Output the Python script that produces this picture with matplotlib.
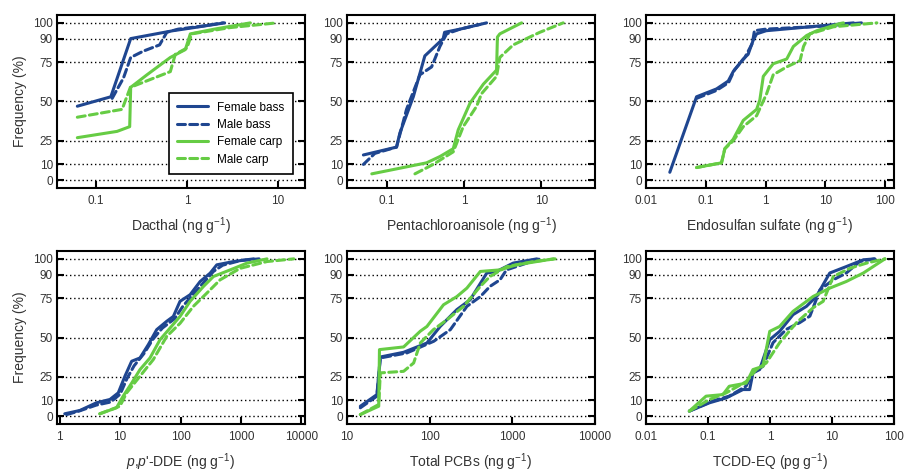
import matplotlib.pyplot as plt
from matplotlib.ticker import FixedLocator, FuncFormatter, NullLocator

plt.rcParams['font.family'] = ['Liberation Sans', 'DejaVu Sans']
plt.rcParams['mathtext.fontset'] = 'custom'
plt.rcParams['mathtext.rm'] = 'Liberation Sans'
plt.rcParams['mathtext.it'] = 'Liberation Sans:italic'

BLUE = '#1f4690'
GREEN = '#66cc44'

# cumulative frequency curves, (concentration, frequency %) per series
# Dacthal
dac_fb_x = [0.062, 0.145, 0.24, 0.7, 1.2, 2.6]
dac_fb_y = [47, 53, 90, 95, 97, 100]
dac_mb_x = [0.15, 0.2, 0.24, 0.33, 0.5, 0.6, 0.8, 1.5, 2.5]
dac_mb_y = [52, 65, 78, 82, 86, 94, 96, 98, 100]
dac_fc_x = [0.062, 0.17, 0.234, 0.24, 0.363, 0.656, 0.96, 1.09, 2.0, 5.0]
dac_fc_y = [27, 31, 34, 59, 67, 78, 83, 93, 96, 100]
dac_mc_x = [0.062, 0.193, 0.238, 0.656, 0.744, 1.0, 1.13, 3.0, 9.75]
dac_mc_y = [40, 45, 59, 69, 80, 84, 93, 97, 100]

# Pentachloroanisole
pca_fb_x = [0.049, 0.132, 0.146, 0.218, 0.308, 0.533, 0.556, 0.88, 1.95]
pca_fb_y = [16, 21, 30, 53, 79, 90, 94, 96, 100]
pca_mb_x = [0.049, 0.069, 0.132, 0.178, 0.266, 0.377, 0.483, 0.59, 0.88, 1.6]
pca_mb_y = [10, 17, 21, 45, 67, 72, 85, 93, 96, 99]
pca_fc_x = [0.063, 0.324, 0.483, 0.72, 0.836, 1.19, 1.77, 2.63, 2.7, 2.9, 5.56]
pca_fc_y = [4, 11, 15, 20, 32, 49, 61, 70, 91, 93, 100]
pca_mc_x = [0.229, 0.395, 0.72, 0.97, 1.45, 1.68, 2.63, 2.9, 4.33, 9.6, 19.3]
pca_mc_y = [4, 10, 18, 34, 47, 55, 66, 78, 86, 94, 100]

# Endosulfan sulfate
end_fb_x = [0.025, 0.07, 0.151, 0.237, 0.287, 0.423, 0.51, 0.62, 0.707, 1.02, 29.5]
end_fb_y = [5, 53, 58, 63, 69, 77, 80, 89, 93, 95, 100]
end_mb_x = [0.07, 0.15, 0.24, 0.3, 0.45, 0.6, 0.65, 1.0, 10, 40]
end_mb_y = [52, 57, 62, 70, 78, 87, 95, 96, 98, 100]
end_fc_x = [0.07, 0.183, 0.208, 0.287, 0.423, 0.707, 0.8, 0.914, 1.34, 2.25,
            2.91, 4.86, 7.16, 17.6, 20]
end_fc_y = [8, 11, 20, 26, 38, 45, 51, 66, 74, 77, 85, 92, 95, 99.6, 100]
end_mc_x = [0.07, 0.183, 0.208, 0.287, 0.423, 0.707, 1.04, 1.34, 2.25, 3.76,
            4.3, 5.5, 13.6, 72.4]
end_mc_y = [8, 11, 20, 25, 34, 41, 55, 67, 72, 76, 85, 93, 97.5, 100]

# p,p'-DDE
dde_fb_x = [1.21, 2.15, 4.06, 6.77, 9.3, 12, 15.5, 21.3, 29.3, 40.3, 59, 76,
            98, 144, 211, 309, 398, 755, 1620]
dde_fb_y = [1.5, 3.6, 8.5, 10.6, 14.8, 25.4, 34.9, 37, 45.5, 55, 60.3, 63.4,
            73, 77.2, 85.6, 90.9, 96.2, 98.3, 100]
dde_mb_x = [1.3, 2, 4, 7, 10, 13, 17, 25, 35, 50, 80, 110, 150, 230, 350, 500,
            1000, 2000]
dde_mb_y = [1, 3, 7, 9, 14, 24, 32, 40, 49, 56, 62, 70, 76, 84, 92, 96, 99, 100]
dde_fc_x = [4.6, 8.7, 11.2, 15.5, 21.3, 31.2, 45.7, 67, 98, 144, 240, 351, 664,
            1260, 2700]
dde_fc_y = [1.5, 5.3, 12.7, 21, 29.6, 37, 48.6, 56, 63.4, 73, 82.5, 88.8, 93,
            97.3, 100]
dde_mc_x = [4.6, 9.9, 12.8, 21.3, 35.4, 59, 98, 163, 272, 453, 974, 2700, 7500]
dde_mc_y = [1.5, 6.3, 14.8, 25.4, 36, 50.7, 59, 69.8, 78.2, 86.7, 94, 98.3, 100]

# Total PCBs
pcb_fb_x = [14.5, 23, 25.3, 48.4, 92.6, 134, 213, 309, 491, 646, 1023, 1980]
pcb_fb_y = [6.3, 13.7, 37.6, 40.6, 46.5, 57, 67.7, 74, 91, 92, 97.3, 100]
pcb_mb_x = [14.5, 23, 25.3, 53, 112, 178, 282, 410, 537, 710, 850, 1490, 2150]
pcb_mb_y = [5.3, 12.7, 37, 40.2, 47.6, 55, 69.8, 76, 82.5, 86.7, 93, 97.3, 100]
pcb_fc_x = [14.5, 24.2, 24.7, 48.4, 77, 92.6, 147, 213, 282, 410, 710, 1120,
            3150]
pcb_fc_y = [1, 6.3, 42.3, 44, 54, 57, 70.8, 76, 81.4, 92, 93, 96.2, 100]
pcb_mc_x = [14.5, 24.2, 25.3, 48.4, 64, 77, 111, 162, 257, 410, 537, 850, 1800,
            3300]
pcb_mc_y = [1, 7.4, 27.5, 28.5, 33.8, 46.5, 55, 61.3, 69.8, 82.5, 88.8, 95,
            98.3, 100]

# TCDD-EQ
tcd_fb_x = [0.05, 0.106, 0.197, 0.366, 0.469, 0.531, 0.68, 0.99, 1.43, 2.35,
            3.87, 5.6, 9.2, 17, 32, 49]
tcd_fb_y = [3.2, 8.5, 11.6, 16.9, 16.9, 27.5, 29.6, 48.6, 53.9, 64.5, 69.8,
            76.1, 91, 95.1, 99.4, 100]
tcd_mb_x = [0.05, 0.12, 0.22, 0.41, 0.531, 0.77, 1.12, 1.84, 3.0, 4.4, 6.4,
            10.5, 17, 28, 49]
tcd_mb_y = [3.2, 9.7, 12.7, 19, 27.5, 31.7, 46.7, 55.2, 59.4, 63.6, 80.3, 86.7,
            91, 98.3, 100]
tcd_fc_x = [0.05, 0.093, 0.174, 0.22, 0.414, 0.531, 0.77, 0.99, 1.43, 2.35,
            4.96, 9.2, 17, 32, 71.5]
tcd_fc_y = [3.2, 12.7, 13.7, 19, 21, 29.6, 31.7, 53.9, 57, 66.6, 76.1, 81.4,
            85.6, 91, 100]
tcd_mc_x = [0.05, 0.106, 0.197, 0.414, 0.6, 0.87, 1.43, 2.67, 4.96, 7.2, 10.5,
            19.4, 36, 71.5]
tcd_mc_y = [3.2, 10.6, 14.8, 22, 29.6, 33.8, 46.7, 59.4, 68.9, 73, 88.8, 94,
            97.3, 100]

xlabels = ['Dacthal (ng g$^{-1}$)', 'Pentachloroanisole (ng g$^{-1}$)',
           'Endosulfan sulfate (ng g$^{-1}$)',
           "$p$,$p$'-DDE (ng g$^{-1}$)", 'Total PCBs (ng g$^{-1}$)',
           'TCDD-EQ (pg g$^{-1}$)']
xlims = [(0.037, 20), (0.03, 50), (0.01, 140), (0.9, 11500), (10, 10000),
         (0.01, 100)]
xticks = [[0.1, 1, 10], [0.1, 1, 10], [0.01, 0.1, 1, 10, 100],
          [1, 10, 100, 1000, 10000], [10, 100, 1000, 10000],
          [0.01, 0.1, 1, 10, 100]]
yticks = [0, 10, 25, 50, 75, 90, 100]

panels = [
    [(dac_fb_x, dac_fb_y), (dac_mb_x, dac_mb_y), (dac_fc_x, dac_fc_y), (dac_mc_x, dac_mc_y)],
    [(pca_fb_x, pca_fb_y), (pca_mb_x, pca_mb_y), (pca_fc_x, pca_fc_y), (pca_mc_x, pca_mc_y)],
    [(end_fb_x, end_fb_y), (end_mb_x, end_mb_y), (end_fc_x, end_fc_y), (end_mc_x, end_mc_y)],
    [(dde_fb_x, dde_fb_y), (dde_mb_x, dde_mb_y), (dde_fc_x, dde_fc_y), (dde_mc_x, dde_mc_y)],
    [(pcb_fb_x, pcb_fb_y), (pcb_mb_x, pcb_mb_y), (pcb_fc_x, pcb_fc_y), (pcb_mc_x, pcb_mc_y)],
    [(tcd_fb_x, tcd_fb_y), (tcd_mb_x, tcd_mb_y), (tcd_fc_x, tcd_fc_y), (tcd_mc_x, tcd_mc_y)],
]
series = ['Female bass', 'Male bass', 'Female carp', 'Male carp']
styles = [(BLUE, '-'), (BLUE, (0, (2.6, 1.4))), (GREEN, '-'), (GREEN, (0, (2.6, 1.4)))]

fig = plt.figure(figsize=(9.06, 4.73), dpi=100)
W, H = 906.0, 473.0
lefts = [57, 347, 646]
tops = [15, 251]
aw, ah = 248, 173

for i, data in enumerate(panels):
    r, c = divmod(i, 3)
    ax = fig.add_axes([lefts[c] / W, 1 - (tops[r] + ah) / H, aw / W, ah / H])
    ax.set_xscale('log')
    for (x, y), (col, ls), name in zip(data, styles, series):
        ax.plot(x, y, color=col, linestyle=ls, lw=2.2, label=name,
                solid_capstyle='round', dash_capstyle='round', zorder=3)
    ax.set_xlim(*xlims[i])
    ax.set_ylim(-5, 105)
    ax.xaxis.set_major_locator(FixedLocator(xticks[i]))
    ax.xaxis.set_minor_locator(NullLocator())
    ax.xaxis.set_major_formatter(FuncFormatter(lambda v, p: '{:g}'.format(v)))
    ax.set_yticks(yticks)
    ax.yaxis.grid(True, linestyle=(0, (1, 2)), color='black', lw=1.0)
    ax.tick_params(direction='in', length=5, width=1.5, right=True,
                   labelsize=8.5, pad=5, labelcolor='#333333')
    ax.tick_params(axis='y', pad=3)
    for s in ax.spines.values():
        s.set_linewidth(1.5)
    ax.set_xlabel(xlabels[i], fontsize=10, labelpad=6, color='#333333')
    if c == 0:
        ax.set_ylabel('Frequency (%)', fontsize=10, color='#333333', labelpad=4)
    if i == 0:
        leg = ax.legend(loc='lower right', bbox_to_anchor=(0.975, 0.048),
                        fancybox=False, edgecolor='black', fontsize=8.5,
                        handlelength=2.6, labelspacing=0.45, borderpad=0.7,
                        framealpha=1)
        leg.get_frame().set_linewidth(1.2)

fig.savefig('out.png', dpi=100)
